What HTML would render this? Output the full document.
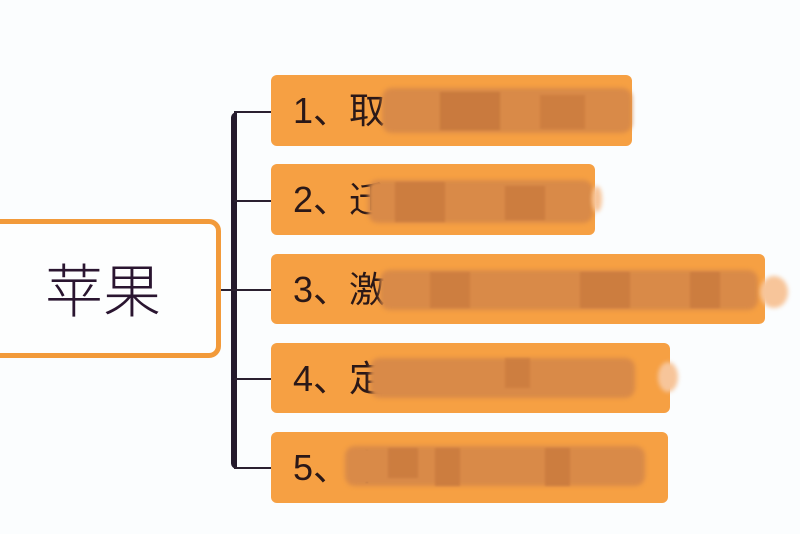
<!DOCTYPE html>
<html><head><meta charset="utf-8"><style>
html,body{margin:0;padding:0;}
body{width:800px;height:534px;background:#fbfdfe;position:relative;overflow:hidden;font-family:"Liberation Sans","Noto Sans CJK SC",sans-serif;}
.root{position:absolute;left:-12px;top:219px;width:223px;height:129px;border:5px solid #f29a3a;border-radius:12px;background:#fdfefe;}
.root span{position:absolute;left:52px;top:28px;font-size:58px;color:#2a1530;font-family:"Noto Sans CJK SC",sans-serif;font-weight:300;line-height:70px;}
.vl{position:absolute;left:231px;top:112px;width:6px;height:357px;background:#241a2c;border-radius:6px 0 0 6px;}
.hl{position:absolute;left:234px;height:2px;background:#2a2030;}
.box{position:absolute;left:271px;background:#f6a043;border-radius:6px;}
.box .t{position:absolute;left:22px;top:14px;font-size:36px;color:#2a1818;line-height:44px;font-family:"Liberation Sans","Noto Sans CJK SC",sans-serif;white-space:nowrap;}
.blur{position:absolute;background:#d98a48;filter:blur(2px);border-radius:10px;}
.blk{position:absolute;background:#c97a3e;filter:blur(1px);}
.lt{position:absolute;background:#f7c59a;filter:blur(2px);border-radius:50%;}
</style></head><body>
<div class="root"><span>苹果</span></div>
<div class="vl"></div>
<div class="hl" style="top:111px;width:37px"></div>
<div class="hl" style="top:200px;width:37px"></div>
<div class="hl" style="top:289px;left:221px;width:50px"></div>
<div class="hl" style="top:378px;width:37px"></div>
<div class="hl" style="top:467px;width:37px"></div>

<div class="box" style="top:75px;width:361px;height:71px"><div class="t">1、取</div></div>
<div class="blur" style="left:382px;top:88px;width:250px;height:45px"></div>
<div class="blk" style="left:440px;top:92px;width:60px;height:38px"></div>
<div class="blk" style="left:540px;top:95px;width:45px;height:34px;opacity:.7"></div>

<div class="box" style="top:164px;width:324px;height:71px"><div class="t">2、迁</div></div>
<div class="blur" style="left:368px;top:180px;width:225px;height:43px"></div>
<div class="blk" style="left:395px;top:182px;width:50px;height:40px;opacity:.8"></div>
<div class="blk" style="left:505px;top:186px;width:40px;height:34px;opacity:.8"></div>
<div class="lt" style="left:592px;top:186px;width:10px;height:26px"></div>

<div class="box" style="top:254px;width:494px;height:70px"><div class="t">3、激</div></div>
<div class="blur" style="left:380px;top:270px;width:378px;height:40px"></div>
<div class="blk" style="left:430px;top:272px;width:40px;height:36px;opacity:.7"></div>
<div class="blk" style="left:580px;top:272px;width:50px;height:36px;opacity:.8"></div>
<div class="blk" style="left:690px;top:272px;width:30px;height:36px;opacity:.8"></div>
<div class="lt" style="left:760px;top:276px;width:28px;height:32px"></div>

<div class="box" style="top:343px;width:399px;height:70px"><div class="t">4、定</div></div>
<div class="blur" style="left:370px;top:358px;width:265px;height:40px"></div>
<div class="blk" style="left:505px;top:358px;width:25px;height:30px;opacity:.7"></div>
<div class="lt" style="left:658px;top:362px;width:20px;height:30px"></div>

<div class="box" style="top:432px;width:397px;height:71px"><div class="t">5、半</div></div>
<div class="blur" style="left:345px;top:446px;width:300px;height:40px"></div>
<div class="blk" style="left:388px;top:448px;width:30px;height:30px;opacity:.8"></div>
<div class="blk" style="left:435px;top:448px;width:25px;height:38px;opacity:.8"></div>
<div class="blk" style="left:545px;top:448px;width:25px;height:38px;opacity:.8"></div>
</body></html>
